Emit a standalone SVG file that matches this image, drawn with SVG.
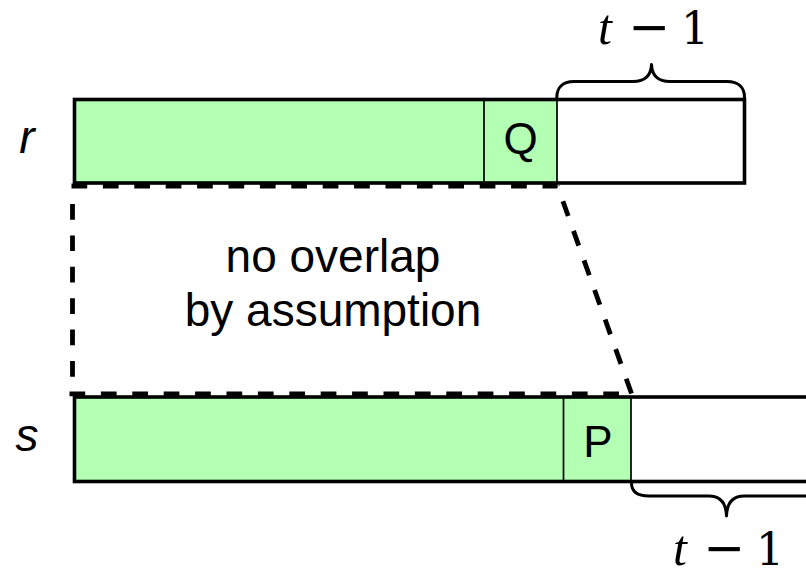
<svg xmlns="http://www.w3.org/2000/svg" width="806" height="570" viewBox="0 0 806 570">
<style>
.green{fill:#b3ffb3;stroke:none}
.outline{fill:none;stroke:#000;stroke-width:3.6}
.thin{fill:none;stroke:#000;stroke-width:1.7}
.brace{fill:none;stroke:#000;stroke-width:3;stroke-linecap:round;stroke-linejoin:round}
.dash{fill:none;stroke:#000;stroke-width:4.8;stroke-dasharray:15.7 15.7}
.sans{font-family:"Liberation Sans",Arial,sans-serif;fill:#000}
.var{font-family:"Liberation Sans",Arial,sans-serif;font-style:italic;font-size:46px;fill:#000}
.mt{font-family:"Liberation Serif","Times New Roman",serif;font-style:italic;font-size:50px;fill:#000}
.mm{font-family:"DejaVu Sans",sans-serif;font-size:50px;fill:#000}
.m1{font-family:"DejaVu Serif",serif;font-size:44px;fill:#000}
</style>
<rect width="806" height="570" fill="#fff"/>
<g id="label-r"><text class="var" x="27" y="153" text-anchor="middle">r</text></g>
<g id="label-s"><text class="var" x="27" y="451" text-anchor="middle">s</text></g>
<g id="bar-r">
<rect class="green" x="74.5" y="99.5" width="482.5" height="83.5"/>
<line class="thin" x1="484" y1="99.5" x2="484" y2="183"/>
<line class="thin" x1="557" y1="99.5" x2="557" y2="183"/>
<rect class="outline" x="74.5" y="99.5" width="670" height="83.5"/>
<text class="sans" x="520.5" y="154" font-size="44" text-anchor="middle">Q</text>
</g>
<g id="brace-r">
<path class="brace" d="M556.8,97.5 C556.8,88 562,81.5 574,81.5 L633,81.5 C645,81.5 651,76 651.5,64.5 C652,76 658,81.5 670,81.5 L727,81.5 C739,81.5 744.5,88 744.5,97.5"/>
<text class="mt" x="598" y="43.5">t</text>
<text class="mm" x="628.5" y="43.5">−</text>
<text class="m1" x="695" y="43.5" text-anchor="middle">1</text>
</g>
<g id="bar-s">
<rect class="green" x="74.5" y="397" width="556.5" height="84.5"/>
<line class="thin" x1="563.5" y1="397" x2="563.5" y2="481.5"/>
<line class="thin" x1="631" y1="397" x2="631" y2="481.5"/>
<rect class="outline" x="74.5" y="397" width="760" height="84.5"/>
<text class="sans" x="598" y="457" font-size="44" text-anchor="middle">P</text>
</g>
<g id="brace-s">
<path class="brace" d="M631.5,483 C631.5,491 637,496 649,496 L709,496 C720,496 726,502 726.5,516 C727,502 733,496 744,496 L804,496 C816,496 821.5,491 821.5,483"/>
<text class="mt" x="673" y="565">t</text>
<text class="mm" x="703.5" y="565">−</text>
<text class="m1" x="770" y="565" text-anchor="middle">1</text>
</g>
<g id="note">
<text class="sans" font-size="46" text-anchor="middle"><tspan x="333" y="272">no overlap</tspan><tspan x="333" y="326">by assumption</tspan></text>
</g>
<g id="connectors">
<path class="dash" d="M71.5,186 H557.5"/>
<path class="dash" d="M72.5,204 V393.5"/>
<path class="dash" d="M69.5,393.8 H631.5"/>
<path class="dash" d="M631.5,393.5 L557.5,186"/>
</g>
</svg>
